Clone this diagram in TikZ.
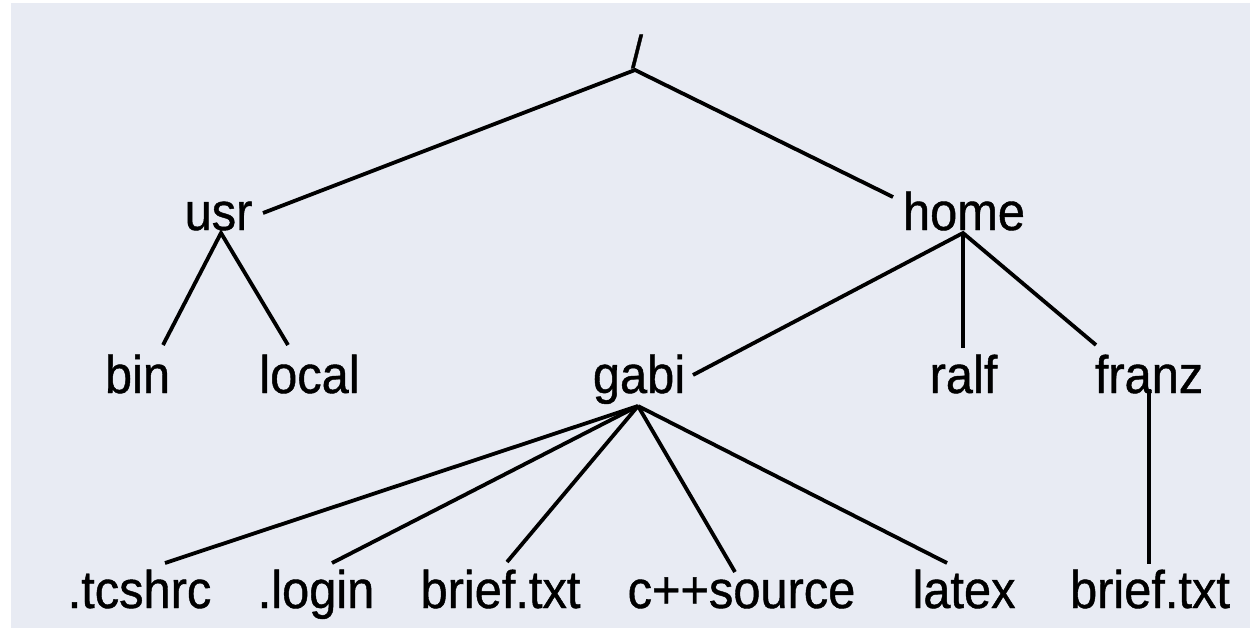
\documentclass[tikz,border=0pt]{standalone}
\usepackage{fontspec}
\setmainfont[FakeStretch=0.92,FakeBold=0.8]{Liberation Sans}
\usetikzlibrary{calc}
\definecolor{bgpanel}{RGB}{232,235,243}
\tikzset{
  lbl/.style={anchor=base, inner sep=0pt, font=\fontsize{53}{60}\selectfont, text=black},
  rootlbl/.style={anchor=base, inner sep=0pt, font=\fontsize{46}{50}\selectfont, text=black},
  edge/.style={line width=3.8pt, black}
}
\begin{document}
\begin{tikzpicture}[x=1pt, y=-1pt]
  \useasboundingbox (0,0) rectangle (1250,629);
  \fill[white] (0,0) rectangle (1250,629);
  \fill[bgpanel] (11,3) rectangle (1250,628);

  % nodes
  \node[rootlbl] (root) at (637,68) {/};
  \node[lbl] (usr)  at (218.5,230) {usr};
  \node[lbl] (home) at (964,230) {home};
  \node[lbl] (bin)   at (137.5,393) {bin};
  \node[lbl] (local) at (309.5,393) {local};
  \node[lbl] (gabi)  at (639,393) {gabi};
  \node[lbl] (ralf)  at (963.5,393) {ralf};
  \node[lbl] (franz) at (1149,393) {franz};
  \node[lbl] (tcshrc) at (139.5,608) {.tcshrc};
  \node[lbl] (login)  at (316,608) {.login};
  \node[lbl] (briefa) at (500.5,608) {brief.txt};
  \node[lbl] (cpp)    at (741.5,608) {c++source};
  \node[lbl] (latex)  at (964,608) {latex};
  \node[lbl] (briefb) at (1150,608) {brief.txt};

  % connectors
  \draw[edge] ($(usr.base)+(44.5,-17)$) -- ($(root.base)+(-2,2)$) -- ($(home.base)+(-71,-33)$);
  \draw[edge] ($(bin.base)+(25.5,-48)$) -- ($(usr.base)+(2.5,3)$) -- ($(local.base)+(-21.5,-48)$);
  \draw[edge] ($(gabi.base)+(54,-18)$) -- ($(home.base)+(-1,3)$) -- ($(franz.base)+(-53,-48)$);
  \draw[edge] ($(home.base)+(-1,3)$) -- ($(ralf.base)+(-0.5,-45)$);
  \draw[edge] ($(gabi.base)+(-1,13)$) -- ($(tcshrc.base)+(25.5,-45)$);
  \draw[edge] ($(gabi.base)+(-1,13)$) -- ($(login.base)+(16,-45)$);
  \draw[edge] ($(gabi.base)+(-1,13)$) -- ($(briefa.base)+(6.5,-46)$);
  \draw[edge] ($(gabi.base)+(-1,13)$) -- ($(cpp.base)+(-6.5,-36)$);
  \draw[edge] ($(gabi.base)+(-1,13)$) -- ($(latex.base)+(-17,-45)$);
  \draw[edge] ($(franz.base)+(0,-4)$) -- ($(briefb.base)+(-1,-44)$);
\end{tikzpicture}
\end{document}
